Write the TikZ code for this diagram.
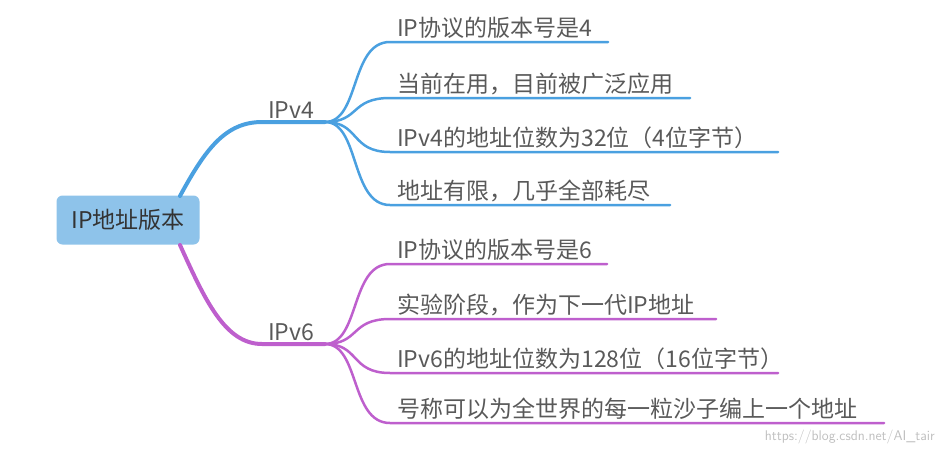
\documentclass[tikz,border=0pt]{standalone}
\usepackage{fontspec}
\setmainfont{Noto Sans CJK SC}
\begin{document}
\begin{tikzpicture}[x=1pt,y=-1pt,
  txt/.style={anchor=south west,inner sep=0pt,text=black!65,font=\fontsize{23}{23}\selectfont},
  b4/.style={draw={rgb,255:red,74;green,160;blue,224},line width=2.5pt,line cap=round},
  b6/.style={draw={rgb,255:red,190;green,95;blue,205},line width=2.5pt,line cap=round}]
\useasboundingbox (0,0) rectangle (946,453);
\node[fill={rgb,255:red,142;green,195;blue,234},rounded corners=6pt,minimum width=143pt,minimum height=49pt,inner sep=0pt,text=black!80,font=\fontsize{23}{23}\selectfont] (root) at (128,220) {IP地址版本};
% IPv4
\coordinate (a0) at (262,122); \coordinate (a1) at (325,122);
\node[txt] (v4) at (268,119) {IPv4};
\draw[b4,line width=4pt] (180,196) .. controls (205,150) and (225,122) .. (a0) -- (a1);
\foreach \y/\e/\t in {42/608/IP协议的版本号是4, 98/690/当前在用，目前被广泛应用, 152/778/IPv4的地址位数为32位（4位字节）, 205/670/地址有限，几乎全部耗尽}{
  \draw[b4] (a1) .. controls (360,122) and (350,\y) .. (390,\y) -- (\e,\y);
  \node[txt] at (397,\y-3) {\t};
}
% IPv6
\coordinate (c0) at (262,344); \coordinate (c1) at (325,344);
\node[txt] (v6) at (268,341) {IPv6};
\draw[b6,line width=4pt] (180,245) .. controls (205,300) and (225,344) .. (c0) -- (c1);
\foreach \y/\e/\t in {264/607/IP协议的版本号是6, 319/716/实验阶段，作为下一代IP地址, 373/778/IPv6的地址位数为128位（16位字节）, 423/884/号称可以为全世界的每一粒沙子编上一个地址}{
  \draw[b6] (c1) .. controls (360,344) and (350,\y) .. (390,\y) -- (\e,\y);
  \node[txt] at (397,\y-3) {\t};
}
\node[anchor=east,inner sep=0pt,text=black!25,font=\sffamily\fontsize{14}{14}\selectfont] (wm) at (935,437) {https://blog.csdn.net/AI\_tair};
\end{tikzpicture}
\end{document}
